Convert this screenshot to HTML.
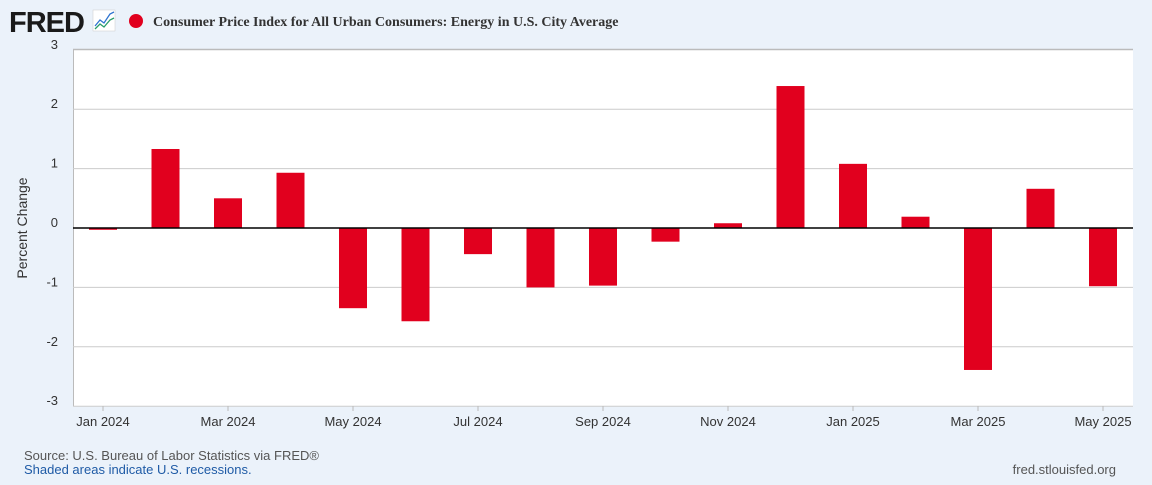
<!DOCTYPE html>
<html><head><meta charset="utf-8"><style>
body{margin:0;width:1152px;height:480px;background:#ebf2fa;font-family:"Liberation Sans",sans-serif;overflow:hidden}
</style></head><body>
<svg id="c" width="1152" height="480" xmlns="http://www.w3.org/2000/svg">
<text x="9" y="32" font-size="29" font-weight="bold" fill="#1a1a1a" letter-spacing="-1">FRED</text>
<g><rect x="93" y="10" width="22" height="21" fill="#fff" stroke="#ccc" stroke-width="0.5"/><polyline points="95,26 100,20 104,23 110,14 114,12" fill="none" stroke="#2f74d0" stroke-width="1.3"/><polyline points="95,29 100,24 104,27 110,20 114,18" fill="none" stroke="#2a9d6a" stroke-width="1.3"/></g>
<circle cx="136" cy="21" r="7" fill="#e1001e"/>
<text x="153" y="26" font-family="Liberation Serif,serif" font-size="14" font-weight="bold" fill="#333">Consumer Price Index for All Urban Consumers: Energy in U.S. City Average</text>
<rect x="73" y="49" width="1060" height="357" fill="#fff"/>
<line x1="73" y1="49.5" x2="1133" y2="49.5" stroke="#bbb" stroke-width="1.5"/>
<line x1="73.5" y1="49" x2="73.5" y2="406" stroke="#bbb" stroke-width="1"/>
<g id="grid"></g><g id="bars"></g><g id="axes"></g>
<text transform="translate(27,228) rotate(-90)" text-anchor="middle" font-size="14" fill="#333">Percent Change</text>
<text x="24" y="460" font-size="13" fill="#555">Source: U.S. Bureau of Labor Statistics via FRED®</text>
<text x="24" y="474" font-size="13" fill="#1f5ba6">Shaded areas indicate U.S. recessions.</text>
<text x="1116" y="474" text-anchor="end" font-size="13" fill="#555">fred.stlouisfed.org</text>
</svg>
<script>
const months=["Jan 2024","Feb 2024","Mar 2024","Apr 2024","May 2024","Jun 2024","Jul 2024","Aug 2024","Sep 2024","Oct 2024","Nov 2024","Dec 2024","Jan 2025","Feb 2025","Mar 2025","Apr 2025","May 2025"];
const values=[-0.03,1.33,0.5,0.93,-1.35,-1.57,-0.44,-1.0,-0.97,-0.23,0.08,2.39,1.08,0.19,-2.39,0.66,-0.98];
const yTicks=[3,2,1,0,-1,-2,-3];
const xLabelIdx=[0,2,4,6,8,10,12,14,16];
const NS="http://www.w3.org/2000/svg";
const y=v=>228-v*59.4;
const x=i=>103+i*62.5;
function mk(t,a,p){const e=document.createElementNS(NS,t);for(const k in a)e.setAttribute(k,a[k]);document.getElementById(p).appendChild(e);return e;}
yTicks.forEach(v=>{
 if(v!==3&&v!==0){const l=mk('line',{x1:73,x2:1133,y1:y(v),y2:y(v),stroke:'#ccc','stroke-width':1},'grid');
 
 }
 const t=mk('text',{x:58,y:y(v)-1,'text-anchor':'end','font-size':13,fill:'#333'},'axes');t.textContent=v;
 
 
});
values.forEach((v,i)=>{
 const b=mk('rect',{x:x(i)-14,width:28,y:Math.min(y(v),y(0)),height:Math.abs(y(v)-y(0)),fill:'#e1001e'},'bars');
 
 
});
const z=mk('line',{x1:73,x2:1133,y1:y(0),y2:y(0),stroke:'#000','stroke-width':1.5},'axes');


xLabelIdx.forEach(i=>{
 const t=mk('text',{x:x(i),y:426,'text-anchor':'middle','font-size':13,fill:'#333'},'axes');t.textContent=months[i];
 
 
 const tk=mk('line',{x1:x(i),x2:x(i),y1:406,y2:411,stroke:'#bbb'},'axes');
 
 
});
</script>
</body></html>
